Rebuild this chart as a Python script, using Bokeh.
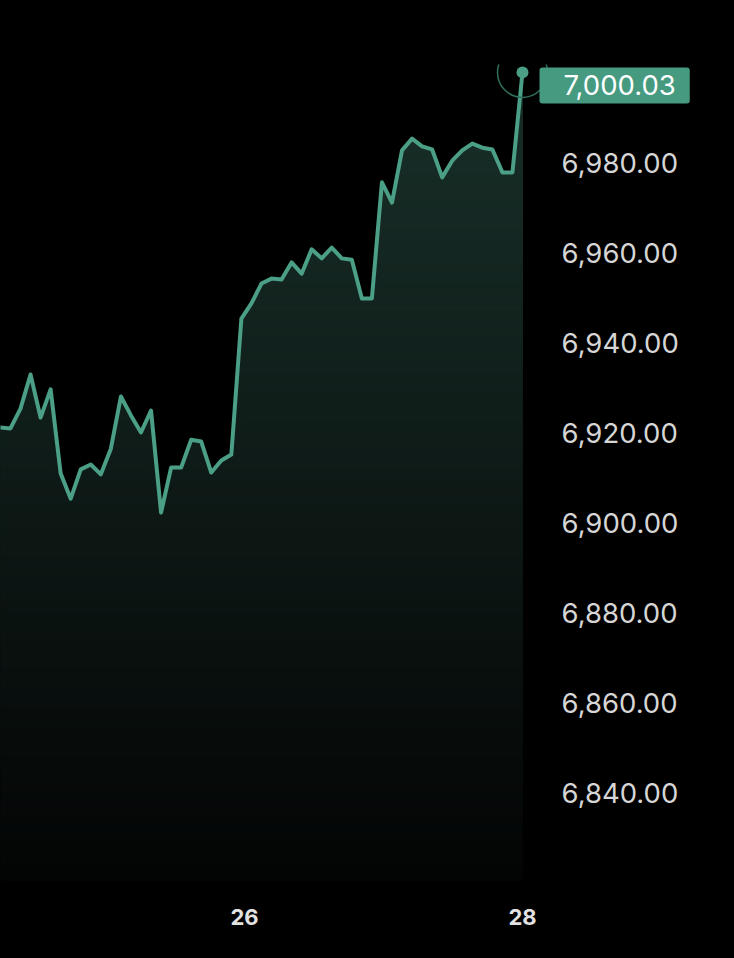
import numpy as np
from bokeh.plotting import figure
from bokeh.models import Range1d, FixedTicker, NumeralTickFormatter, LinearAxis, Label, ColumnDataSource
from bokeh.embed import file_html
from bokeh.resources import INLINE

# ---- data ----
prices = [6921.1, 6920.9, 6925.3, 6932.9, 6923.3, 6929.6, 6910.9, 6905.3, 6911.8, 6912.9,
          6910.7, 6916.4, 6928.0, 6923.8, 6920.0, 6924.9, 6902.2, 6912.2, 6912.2, 6918.4,
          6918.0, 6911.1, 6913.8, 6915.1, 6945.3, 6948.7, 6953.1, 6954.2, 6954.0, 6957.8,
          6955.3, 6960.7, 6958.7, 6961.1, 6958.7, 6958.4, 6949.8, 6949.8, 6975.6, 6971.1,
          6982.7, 6985.3, 6983.6, 6982.9, 6976.7, 6980.4, 6982.7, 6984.2, 6983.3, 6982.9,
          6977.8, 6977.8, 7000.03]
last_day = 28.0
bar_step = 0.07223  # days between samples
days = [last_day - (len(prices) - 1 - i) * bar_step for i in range(len(prices))]
y_ticks = [6840, 6860, 6880, 6900, 6920, 6940, 6960, 6980]
x_ticks = [26, 28]
x_labels = ["26", "28"]
last_label = "7,000.03"

LINE = "#4a9f86"
BOX = "#459a80"

x0, x1 = 24.2446, 29.2806
y0, y1 = 6820.45, 7001.78

p = figure(width=718, height=942, output_backend="svg", toolbar_location=None,
           x_range=Range1d(x0, x1), y_range=Range1d(y0, y1),
           y_axis_location=None, x_axis_location=None,
           min_border_left=0, min_border_right=18, min_border_top=64, min_border_bottom=62)
p.background_fill_color = "black"
p.border_fill_color = "black"
p.outline_line_color = None
p.xgrid.visible = False
p.ygrid.visible = False

# gradient fill under the line, built from stacked opaque bands
xs = np.array(days)
ys = np.array(prices)
levels = np.linspace(y1, y0, 120)
top_rgb = np.array([23, 44, 38])
bot_rgb = np.array([3, 4, 4])
for L in levels:
    t = (L - y0) / (6985 - y0)
    t = min(max(t, 0), 1)
    c = bot_rgb + (top_rgb - bot_rgb) * t
    col = "#%02x%02x%02x" % tuple(int(round(v)) for v in c)
    p.varea(x=xs, y1=np.full_like(ys, y0), y2=np.minimum(ys, L), fill_color=col, fill_alpha=1.0)

src = ColumnDataSource(dict(x=days, y=prices))
p.line("x", "y", source=src, line_color=LINE, line_width=4, line_join="round", line_cap="round")

end = ColumnDataSource(dict(x=[days[-1]], y=[prices[-1]]))
p.scatter("x", "y", source=end, size=50, fill_color=None, line_color="#2f6f5d", line_width=1.5)
p.scatter("x", "y", source=end, size=12, fill_color=LINE, line_color=None)

# right axis (labels sit inside the frame's right part)
ya = LinearAxis(ticker=FixedTicker(ticks=y_ticks), formatter=NumeralTickFormatter(format="0,0.00"))
ya.axis_line_color = None
ya.major_tick_line_color = None
ya.minor_tick_line_color = None
ya.major_tick_out = 0
ya.major_tick_in = 0
ya.major_label_standoff = -139
ya.major_label_text_font = "Inter"
ya.major_label_text_font_size = "27.5px"
ya.major_label_text_color = "#d6d6d6"
p.add_layout(ya, "right")

xa = LinearAxis(ticker=FixedTicker(ticks=x_ticks),
                major_label_overrides={t: s for t, s in zip(x_ticks, x_labels)})
xa.axis_line_color = None
xa.major_tick_line_color = None
xa.minor_tick_line_color = None
xa.major_tick_out = 0
xa.major_label_standoff = 28
xa.major_label_text_font = "Inter"
xa.major_label_text_font_style = "bold"
xa.major_label_text_font_size = "22px"
xa.major_label_text_color = "#e2e2e2"
p.add_layout(xa, "below")

lab = Label(x=days[-1], y=prices[-1], text=last_label, x_offset=17, y_offset=-13,
            text_font="Inter", text_font_size="27.5px", text_color="white",
            text_align="left", text_baseline="middle",
            background_fill_color=BOX, background_fill_alpha=1.0,
            border_radius=3, padding=dict(left=24, right=14, top=8, bottom=8))
p.add_layout(lab)

html = file_html(p, INLINE)
html = html.replace("</head>", "<style>html,body{background:#000000;}</style></head>", 1)
open("out.html", "w").write(html)
